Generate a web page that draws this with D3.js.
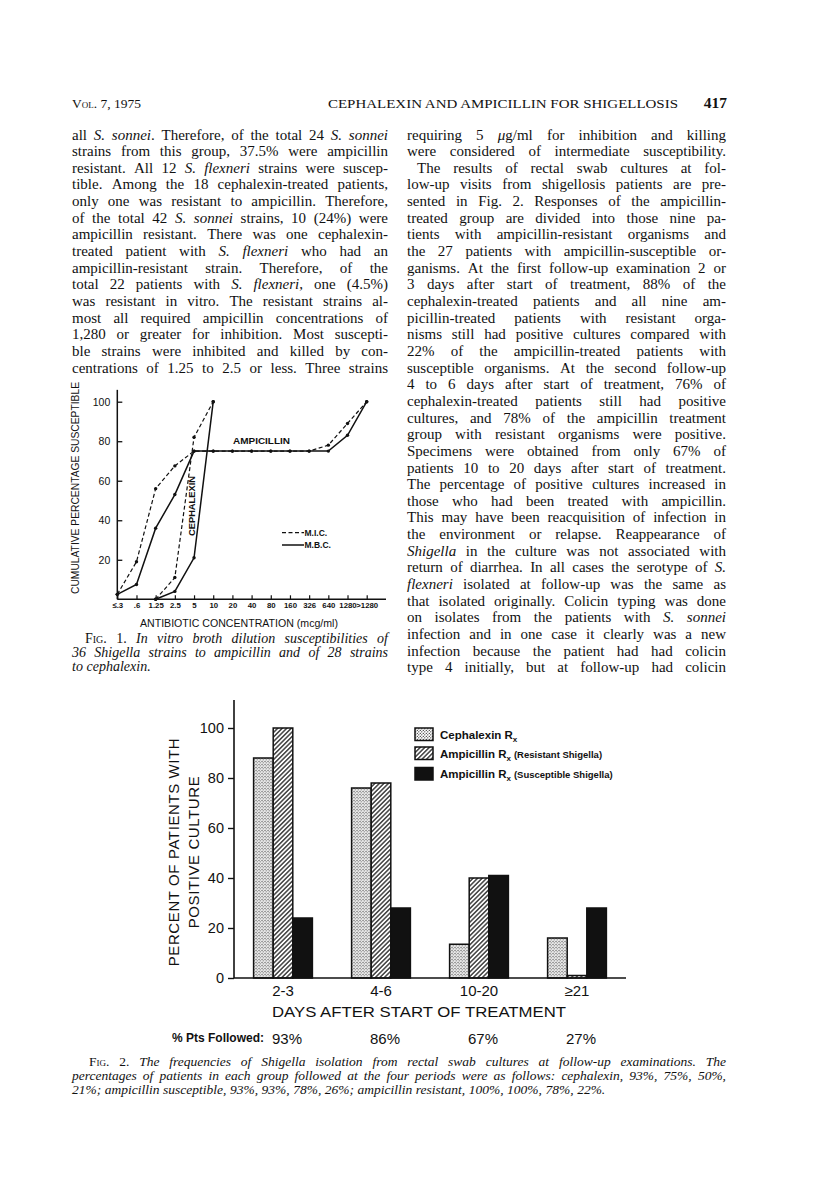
<!DOCTYPE html>
<html>
<head>
<meta charset="utf-8">
<script src="https://cdn.jsdelivr.net/npm/d3@7"></script>
<style>
  body { margin: 0; background: #fff; }
  svg { display: block; }
</style>
</head>
<body>
<svg id="page" width="816" height="1199"></svg>
<script>
// ---------------------------------------------------------------------------
// Data
// ---------------------------------------------------------------------------

// Fig. 1 - cumulative percentage susceptible by concentration (mcg/ml)
const concLabels = ["≤.3", ".6", "1.25", "2.5", "5", "10", "20", "40", "80", "160", "326", "640", "1280", ">1280"];
const ampicillinMIC = [2.5, 19, 56, 67.5, 75, 75, 75, 75, 75, 75, 75, 78, 89, 100];
const ampicillinMBC = [2.5, 7.5, 36, 53, 75, 75, 75, 75, 75, 75, 75, 75, 83, 100];
const cephalexinConc = ["1.25", "2.5", "5", "10"];
const cephalexinMIC = [0, 11, 82, 100];
const cephalexinMBC = [0, 4, 21, 100];
const fig1YTicks = [20, 40, 60, 80, 100];

// Fig. 2 - percent of patients with positive culture
const dayGroups = ["2-3", "4-6", "10-20", "≥21"];
const cephalexinRx = [88, 76, 13.5, 16];
const ampicillinResistant = [100, 78, 40, 1];
const ampicillinSusceptible = [24, 28, 41, 28];
const ptsFollowed = ["93%", "86%", "67%", "27%"];
const fig2YTicks = [0, 20, 40, 60, 80, 100];
const seriesNames = ["Cephalexin", "Ampicillin", "Ampicillin"];
const seriesNotes = ["", "(Resistant Shigella)", "(Susceptible Shigella)"];

// Page text (* toggles italic, ^ toggles small caps)
const leftColumn = [
  "all *S. sonnei*. Therefore, of the total 24 *S. sonnei*",
  "strains from this group, 37.5% were ampicillin",
  "resistant. All 12 *S. flexneri* strains were suscep-",
  "tible. Among the 18 cephalexin-treated patients,",
  "only one was resistant to ampicillin. Therefore,",
  "of the total 42 *S. sonnei* strains, 10 (24%) were",
  "ampicillin resistant. There was one cephalexin-",
  "treated patient with *S. flexneri* who had an",
  "ampicillin-resistant strain. Therefore, of the",
  "total 22 patients with *S. flexneri*, one (4.5%)",
  "was resistant in vitro. The resistant strains al-",
  "most all required ampicillin concentrations of",
  "1,280 or greater for inhibition. Most suscepti-",
  "ble strains were inhibited and killed by con-",
  "centrations of 1.25 to 2.5 or less. Three strains"
];
const rightColumn = [
  "requiring 5 *μ*g/ml for inhibition and killing",
  "were considered of intermediate susceptibility.",
  "The results of rectal swab cultures at fol-",
  "low-up visits from shigellosis patients are pre-",
  "sented in Fig. 2. Responses of the ampicillin-",
  "treated group are divided into those nine pa-",
  "tients with ampicillin-resistant organisms and",
  "the 27 patients with ampicillin-susceptible or-",
  "ganisms. At the first follow-up examination 2 or",
  "3 days after start of treatment, 88% of the",
  "cephalexin-treated patients and all nine am-",
  "picillin-treated patients with resistant orga-",
  "nisms still had positive cultures compared with",
  "22% of the ampicillin-treated patients with",
  "susceptible organisms. At the second follow-up",
  "4 to 6 days after start of treatment, 76% of",
  "cephalexin-treated patients still had positive",
  "cultures, and 78% of the ampicillin treatment",
  "group with resistant organisms were positive.",
  "Specimens were obtained from only 67% of",
  "patients 10 to 20 days after start of treatment.",
  "The percentage of positive cultures increased in",
  "those who had been treated with ampicillin.",
  "This may have been reacquisition of infection in",
  "the environment or relapse. Reappearance of",
  "*Shigella* in the culture was not associated with",
  "return of diarrhea. In all cases the serotype of *S.*",
  "*flexneri* isolated at follow-up was the same as",
  "that isolated originally. Colicin typing was done",
  "on isolates from the patients with *S. sonnei*",
  "infection and in one case it clearly was a new",
  "infection because the patient had had colicin",
  "type 4 initially, but at follow-up had colicin"
];
const fig1Caption = [
  "^Fig.^ 1. *In vitro broth dilution susceptibilities of*",
  "*36 Shigella strains to ampicillin and of 28 strains*",
  "*to cephalexin.*"
];
const fig2Caption = [
  "^Fig.^ 2. *The frequencies of Shigella isolation from rectal swab cultures at follow-up examinations. The*",
  "*percentages of patients in each group followed at the four periods were as follows: cephalexin, 93%, 75%, 50%,*",
  "*21%; ampicillin susceptible, 93%, 93%, 78%, 26%; ampicillin resistant, 100%, 100%, 78%, 22%.*"
];

// ---------------------------------------------------------------------------
// Setup
// ---------------------------------------------------------------------------
const svg = d3.select("#page");
const SERIF = "'Liberation Serif', 'Times New Roman', serif";
const SANS = "'Liberation Sans', Arial, sans-serif";

svg.append("rect").attr("width", 816).attr("height", 1199).attr("fill", "#fff");

const defs = svg.append("defs");
const hatch = defs.append("pattern")
    .attr("id", "hatch")
    .attr("patternUnits", "userSpaceOnUse")
    .attr("width", 3.2).attr("height", 3.2)
    .attr("patternTransform", "rotate(45)");
hatch.append("rect").attr("width", 3.2).attr("height", 3.2).attr("fill", "#fff");
hatch.append("line")
    .attr("x1", 0.8).attr("y1", 0).attr("x2", 0.8).attr("y2", 3.2)
    .attr("stroke", "#111").attr("stroke-width", 1.2);

const stipple = defs.append("pattern")
    .attr("id", "stipple")
    .attr("patternUnits", "userSpaceOnUse")
    .attr("width", 3).attr("height", 3);
stipple.append("rect").attr("width", 3).attr("height", 3).attr("fill", "#fff");
stipple.append("circle").attr("cx", 0.8).attr("cy", 0.8).attr("r", 0.65).attr("fill", "#222");
stipple.append("circle").attr("cx", 2.3).attr("cy", 2.3).attr("r", 0.65).attr("fill", "#222");

// split a marked-up line into words made of styled segments
function parseLine(str) {
    const words = [];
    let cur = [], seg = "", it = false, sc = false;
    const flush = () => { if (seg) { cur.push({t: seg, it: it, sc: sc}); seg = ""; } };
    for (const ch of str) {
        if (ch === "*") { flush(); it = !it; }
        else if (ch === "^") { flush(); sc = !sc; }
        else if (ch === " ") { flush(); if (cur.length) { words.push(cur); cur = []; } }
        else seg += ch;
    }
    flush();
    if (cur.length) words.push(cur);
    return words;
}

// draw justified lines of text, word by word (squeezes lines that overflow)
function textBlock(g, lines, o) {
    lines.forEach(function(line, i) {
        const words = parseLine(line);
        const indent = (o.indents && o.indents[i]) || 0;
        const x0 = o.x + indent;
        const width = o.width - indent;
        const y = o.y + i * o.lh;
        const row = g.append("g");
        const nodes = words.map(function(w) {
            const t = row.append("text")
                .attr("y", y)
                .attr("font-family", SERIF)
                .attr("font-size", o.size)
                .attr("fill", "#111");
            w.forEach(function(s) {
                t.append("tspan")
                    .style("font-style", s.it ? "italic" : "normal")
                    .style("font-variant", s.sc ? "small-caps" : "normal")
                    .text(s.t);
            });
            return t;
        });
        const widths = nodes.map(n => n.node().getComputedTextLength());
        const total = d3.sum(widths);
        const last = o.ragged && o.ragged.includes(i);
        const minGap = o.size * 0.22;
        let gap = (!last && words.length > 1) ? (width - total) / (words.length - 1) : o.size * 0.26;
        if (gap < minGap) {
            gap = minGap;
            const s = width / (total + minGap * (words.length - 1));
            row.attr("transform", "translate(" + x0 + ",0) scale(" + s + ",1) translate(" + (-x0) + ",0)");
        }
        let x = x0;
        nodes.forEach(function(n, k) { n.attr("x", x); x += widths[k] + gap; });
    });
}

// ---------------------------------------------------------------------------
// Running head and body text
// ---------------------------------------------------------------------------
const head = svg.append("g").attr("font-family", SERIF).attr("fill", "#111");
head.append("text").attr("x", 72).attr("y", 108).attr("font-size", 13.5)
    .style("font-variant", "small-caps").text("Vol. 7, 1975");
head.append("text").attr("x", 328).attr("y", 108).attr("font-size", 13.5)
    .attr("textLength", 350).attr("lengthAdjust", "spacingAndGlyphs")
    .text("CEPHALEXIN AND AMPICILLIN FOR SHIGELLOSIS");
head.append("text").attr("x", 727).attr("y", 108).attr("font-size", 15.5)
    .attr("font-weight", "bold").attr("text-anchor", "end").text("417");

const body = svg.append("g");
textBlock(body, leftColumn, {x: 72, y: 139.5, width: 316, lh: 16.65, size: 15});
textBlock(body, rightColumn, {x: 407, y: 139.5, width: 319, lh: 16.65, size: 15, indents: {2: 10}});

// ---------------------------------------------------------------------------
// Fig. 1 - line chart
// ---------------------------------------------------------------------------
const f1 = svg.append("g").attr("font-family", SANS).attr("fill", "#111");
const x1 = d3.scalePoint().domain(concLabels).range([117.3, 366.7]);
const y1 = d3.scaleLinear().domain([0, 100]).range([599.3, 401.7]);

// axis lines
f1.append("line").attr("x1", x1(concLabels[0])).attr("x2", x1(concLabels[0]))
    .attr("y1", y1(106)).attr("y2", y1(0)).attr("stroke", "#111").attr("stroke-width", 1.5);
f1.append("line").attr("x1", x1(concLabels[0])).attr("x2", 386)
    .attr("y1", y1(0)).attr("y2", y1(0)).attr("stroke", "#111").attr("stroke-width", 1.5);

const yAxis1 = f1.append("g")
    .attr("transform", "translate(" + x1(concLabels[0]) + ",0)")
    .call(d3.axisLeft(y1).tickValues(fig1YTicks).tickSize(-5).tickPadding(7));
yAxis1.select(".domain").remove();
yAxis1.selectAll("line").attr("stroke", "#111").attr("stroke-width", 1.3);
yAxis1.selectAll("text").attr("font-family", SANS).attr("font-size", 10.5).attr("fill", "#111");

const xAxis1 = f1.append("g")
    .attr("transform", "translate(0," + y1(0) + ")")
    .call(d3.axisBottom(x1).tickSize(-4).tickPadding(3));
xAxis1.select(".domain").remove();
xAxis1.selectAll("line").attr("stroke", "#111").attr("stroke-width", 1.2);
xAxis1.selectAll("text").attr("font-family", SANS).attr("font-size", 7.8)
    .attr("font-weight", "bold").attr("fill", "#111");

f1.append("text")
    .attr("transform", "translate(75,488) rotate(-90)")
    .attr("dy", "0.35em")
    .attr("text-anchor", "middle")
    .attr("font-size", 10.5)
    .attr("textLength", 212).attr("lengthAdjust", "spacingAndGlyphs")
    .text("CUMULATIVE PERCENTAGE SUSCEPTIBLE");
f1.append("text")
    .attr("x", 239).attr("y", 626.5)
    .attr("text-anchor", "middle")
    .attr("font-size", 10.5)
    .attr("textLength", 198).attr("lengthAdjust", "spacingAndGlyphs")
    .text("ANTIBIOTIC CONCENTRATION (mcg/ml)");

// series
const line1 = d3.line().x(d => x1(d.c)).y(d => y1(d.v));
const series1 = [
    {conc: concLabels, vals: ampicillinMIC, dash: "4,2.5"},
    {conc: concLabels, vals: ampicillinMBC, dash: null},
    {conc: cephalexinConc, vals: cephalexinMIC, dash: "4,2.5"},
    {conc: cephalexinConc, vals: cephalexinMBC, dash: null}
];
series1.forEach(function(s) {
    const pts = s.conc.map((c, i) => ({c: c, v: s.vals[i]}));
    f1.append("path")
        .datum(pts)
        .attr("d", line1)
        .attr("fill", "none")
        .attr("stroke", "#111")
        .attr("stroke-width", s.dash ? 1.2 : 1.5)
        .attr("stroke-dasharray", s.dash);
    f1.append("g").selectAll("circle")
        .data(pts)
        .enter()
        .append("circle")
            .attr("cx", d => x1(d.c))
            .attr("cy", d => y1(d.v))
            .attr("r", 1.7)
            .attr("fill", "#111");
});

f1.append("text").attr("x", 233).attr("y", y1(80) + 3.2)
    .attr("font-size", 8.5).attr("font-weight", "bold")
    .attr("textLength", 57).attr("lengthAdjust", "spacingAndGlyphs")
    .text("AMPICILLIN");
f1.append("text")
    .attr("transform", "translate(192.5,506) rotate(-90)")
    .attr("dy", "0.35em")
    .attr("text-anchor", "middle")
    .attr("font-size", 8.5).attr("font-weight", "bold")
    .attr("textLength", 60).attr("lengthAdjust", "spacingAndGlyphs")
    .text("CEPHALEXIN");

// legend
[["M.I.C.", "4,2.5", 532.7], ["M.B.C.", null, 545]].forEach(function(l) {
    f1.append("line").attr("x1", 282).attr("x2", 304).attr("y1", l[2]).attr("y2", l[2])
        .attr("stroke", "#111").attr("stroke-width", l[1] ? 1.2 : 1.5)
        .attr("stroke-dasharray", l[1]);
    f1.append("text").attr("x", 304.5).attr("y", l[2] + 3)
        .attr("font-size", 8.5).attr("font-weight", "bold").text(l[0]);
});

textBlock(svg.append("g"), fig1Caption, {x: 72, y: 643, width: 316, lh: 13.8, size: 14, indents: {0: 13}, ragged: [2]});

// ---------------------------------------------------------------------------
// Fig. 2 - grouped bar chart
// ---------------------------------------------------------------------------
const f2 = svg.append("g").attr("font-family", SANS).attr("fill", "#111");
const x2 = d3.scaleBand().domain(dayGroups).range([234, 626]).paddingInner(0.4).paddingOuter(0.2);
const xs2 = d3.scaleBand().domain([0, 1, 2]).range([0, x2.bandwidth()]);
const y2 = d3.scaleLinear().domain([0, 100]).range([978, 728]);
const fills = ["url(#stipple)", "url(#hatch)", "#111"];

const barData = dayGroups.map((g, i) => ({
    group: g,
    values: [cephalexinRx[i], ampicillinResistant[i], ampicillinSusceptible[i]]
}));

const groups = f2.append("g").selectAll("g")
    .data(barData)
    .enter()
    .append("g")
        .attr("transform", d => "translate(" + x2(d.group) + ",0)");
groups.selectAll("rect")
    .data(d => d.values)
    .enter()
    .append("rect")
        .attr("x", (d, i) => xs2(i))
        .attr("y", d => y2(d))
        .attr("width", xs2.bandwidth())
        .attr("height", d => y2(0) - y2(d))
        .attr("fill", (d, i) => fills[i])
        .attr("stroke", "#111")
        .attr("stroke-width", 1.5);

// axes
f2.append("line").attr("x1", 234).attr("x2", 234).attr("y1", 700).attr("y2", y2(0))
    .attr("stroke", "#111").attr("stroke-width", 1.6);
f2.append("line").attr("x1", 234).attr("x2", 626).attr("y1", y2(0)).attr("y2", y2(0))
    .attr("stroke", "#111").attr("stroke-width", 1.6);

const yAxis2 = f2.append("g")
    .attr("transform", "translate(234,0)")
    .call(d3.axisLeft(y2).tickValues(fig2YTicks).tickSize(6).tickPadding(4));
yAxis2.select(".domain").remove();
yAxis2.selectAll("line").attr("stroke", "#111").attr("stroke-width", 1.4);
yAxis2.selectAll("text").attr("font-family", SANS).attr("font-size", 14.5).attr("fill", "#111");

const xAxis2 = f2.append("g")
    .attr("transform", "translate(0," + y2(0) + ")")
    .call(d3.axisBottom(x2).tickSize(0).tickPadding(7));
xAxis2.select(".domain").remove();
xAxis2.selectAll("text").attr("font-family", SANS).attr("font-size", 15).attr("fill", "#111");

f2.append("text")
    .attr("x", 272).attr("y", 1017)
    .attr("font-size", 15)
    .attr("textLength", 294).attr("lengthAdjust", "spacingAndGlyphs")
    .text("DAYS AFTER START OF TREATMENT");

["PERCENT OF PATIENTS WITH", "POSITIVE CULTURE"].forEach(function(t, i) {
    f2.append("text")
        .attr("transform", "translate(" + (174 + i * 20) + ",852) rotate(-90)")
        .attr("dy", "0.35em")
        .attr("text-anchor", "middle")
        .attr("font-size", 15)
        .attr("letter-spacing", 0.6)
        .text(t);
});

// patients followed row
f2.append("text").attr("x", 264).attr("y", 1042)
    .attr("text-anchor", "end").attr("font-size", 12).attr("font-weight", "bold")
    .text("% Pts Followed:");
f2.append("g").selectAll("text")
    .data(ptsFollowed)
    .enter()
    .append("text")
        .attr("x", (d, i) => x2(dayGroups[i]) + x2.bandwidth() / 2 + 4)
        .attr("y", 1043.5)
        .attr("text-anchor", "middle")
        .attr("font-size", 15)
        .text(d => d);

// legend
const legend = f2.append("g").selectAll("g")
    .data(seriesNames)
    .enter()
    .append("g")
        .attr("transform", (d, i) => "translate(415," + [728, 747, 767.5][i] + ")");
legend.append("rect")
    .attr("width", 18).attr("height", 12.5)
    .attr("fill", (d, i) => fills[i])
    .attr("stroke", "#111").attr("stroke-width", 1.5);
const legendText = legend.append("text")
    .attr("x", 25).attr("y", 10.5)
    .attr("font-size", 11.5).attr("font-weight", "bold");
legendText.append("tspan").text(d => d + " R");
legendText.append("tspan").attr("font-size", 8).attr("dy", 3).text("x");
legendText.append("tspan").attr("font-size", 9.5).attr("dy", -3).attr("dx", 3)
    .text((d, i) => seriesNotes[i]);

textBlock(svg.append("g"), fig2Caption, {x: 72, y: 1066, width: 654, lh: 14, size: 13.5, indents: {0: 17}, ragged: [2]});
</script>
</body>
</html>
